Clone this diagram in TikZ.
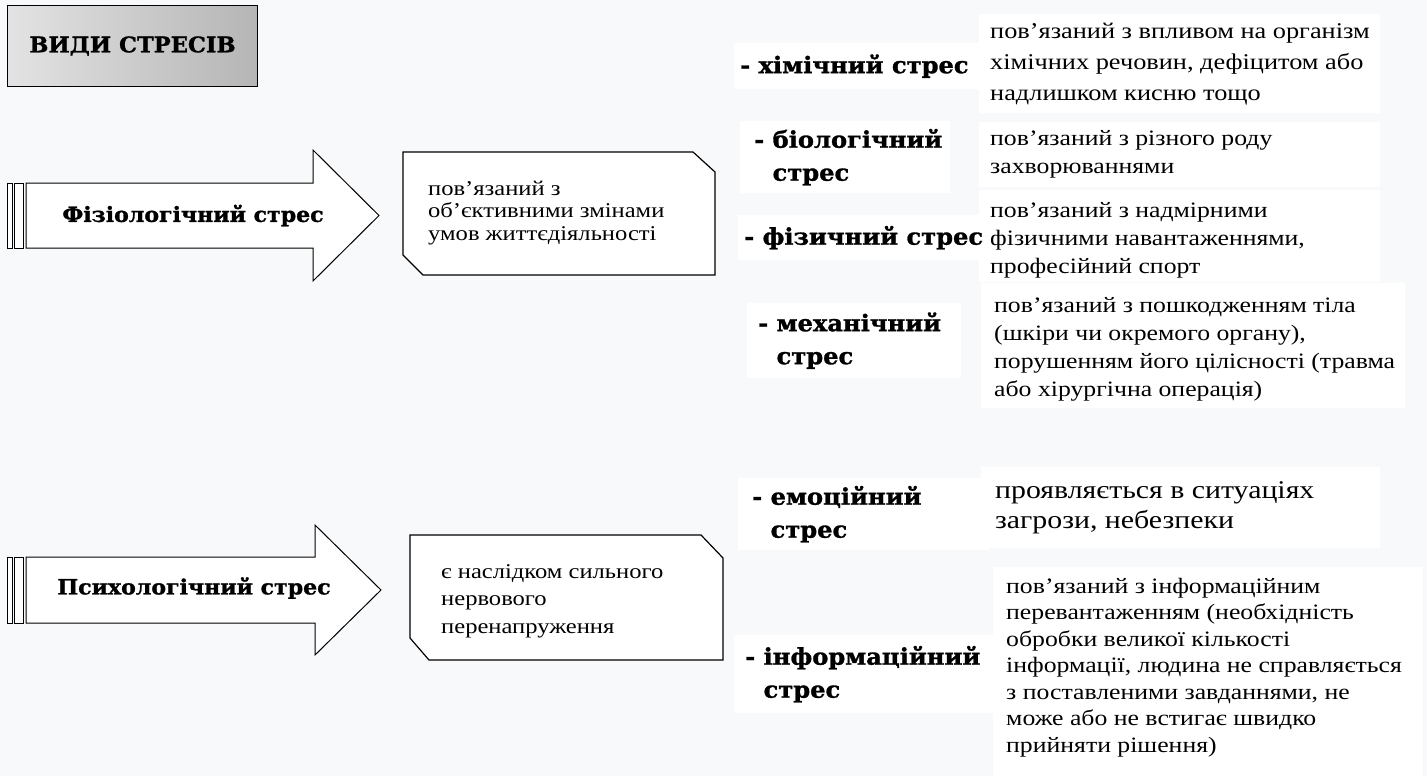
\documentclass[tikz,border=0pt]{standalone}
\usepackage{fontspec}
\setmainfont{Liberation Serif}[FakeStretch=1.17]
\newfontfamily\kindfamily{DejaVu Serif}[
  BoldFont={DejaVu Serif Bold},
  BoldFeatures={FakeBold=1.2},
  FakeStretch=1.05]
\usetikzlibrary{positioning}
\definecolor{pagegray}{RGB}{248,249,250}
\tikzset{
  % For the title plate.
  title plate/.style={
    draw=black,
    line width=1pt,
    left color=gray!22,
    middle color=gray!6,
    right color=gray!58,
    minimum width=250pt,
    minimum height=81pt,
    font=\kindfamily\bfseries\fontsize{21.5}{28}\selectfont},
%
  % For the two big arrows.
  big arrow/.style={
    draw=black,
    line width=1pt,
    fill=white},
  tail bar/.style={
    draw=black,
    line width=0.8pt,
    fill=white},
  arrow text/.style={
    inner sep=0pt,
    font=\kindfamily\bfseries\fontsize{21}{26}\selectfont},
%
  % For the boxes with cut corners.
  cut box/.style={
    draw=black,
    line width=1.2pt,
    fill=white},
  box text/.style={
    anchor=west,
    align=left,
    inner sep=0pt},
%
  % For the white plates on the right.
  plate/.style={
    fill=white,
    anchor=north west,
    inner sep=0pt},
%
  % For the kinds of stress.
  kind/.style={
    align=left,
    inner sep=0pt,
    font=\kindfamily\bfseries\fontsize{23}{33}\selectfont},
%
  % For the explanations.
  note/.style={
    align=left,
    inner sep=0pt,
    font=\fontsize{22}{28}\selectfont},
}

\begin{document}
\begin{tikzpicture}[x=1pt, y=-1pt]
  \useasboundingbox (0,0) rectangle (1427,776);
  \fill[pagegray] (0,0) rectangle (1427,776);

  \node[title plate, anchor=north west] (title) at (7,5) {ВИДИ СТРЕСІВ};

  % Physiological stress.
  \draw[tail bar] (7,183) rectangle (12,248);
  \draw[tail bar] (14,183) rectangle (23,248);
  \draw[big arrow] (26,183) -- (313,183) -- (313,150) -- (379,215.5)
    -- (313,281) -- (313,248) -- (26,248) -- cycle;
  \node[arrow text] (physio) at (193,215.5) {Фізіологічний стрес};

  \draw[cut box] (403,152) -- (693,152) -- (715,172) -- (715,275)
    -- (423,275) -- (403,255) -- cycle;
  \node[box text, font=\fontsize{21}{22.5}\selectfont] (physio note) at (428,213)
    {пов'язаний з\\об'єктивними змінами\\умов життєдіяльності};

  % Psychological stress.
  \draw[tail bar] (7,557) rectangle (12,623);
  \draw[tail bar] (14,557) rectangle (23,623);
  \draw[big arrow] (26,557) -- (315,557) -- (315,525) -- (381,590)
    -- (315,655) -- (315,623) -- (26,623) -- cycle;
  \node[arrow text] (psycho) at (194,588) {Психологічний стрес};

  \draw[cut box] (410,535) -- (701,535) -- (723,558) -- (723,660)
    -- (429,660) -- (410,638) -- cycle;
  \node[box text, font=\fontsize{21}{27.5}\selectfont] (psycho note) at (441,601)
    {є наслідком сильного\\нервового\\перенапруження};

  % Plates.
  \node[plate, minimum width=401pt, minimum height=99pt] (chem note box) at (979,14) {};
  \node[plate, minimum width=401pt, minimum height=65pt] (bio note box) at (979,122) {};
  \node[plate, minimum width=401pt, minimum height=92pt] (phys note box) at (979,190) {};
  \node[plate, minimum width=424pt, minimum height=125pt] (mech note box) at (981,283) {};
  \node[plate, minimum width=399pt, minimum height=81pt] (emo note box) at (981,467) {};
  \node[plate, minimum width=430pt, minimum height=209pt] (info note box) at (993,567) {};
  \node[plate, minimum width=245pt, minimum height=46pt] (chem kind box) at (734,43) {};
  \node[plate, minimum width=210pt, minimum height=72pt] (bio kind box) at (740,121) {};
  \node[plate, minimum width=241pt, minimum height=45pt] (phys kind box) at (738,215) {};
  \node[plate, minimum width=214pt, minimum height=75pt] (mech kind box) at (747,303) {};
  \node[plate, minimum width=252pt, minimum height=72pt] (emo kind box) at (738,478) {};
  \node[plate, minimum width=259pt, minimum height=78pt] (info kind box) at (734,635) {};

  % Kinds.
  \node[kind, right=6pt of chem kind box.west] (chem kind) {- хімічний стрес};
  \node[kind, right=14pt of bio kind box.west] (bio kind) {- біологічний\\\phantom{- }стрес};
  \node[kind, right=6pt of phys kind box.west] (phys kind) {- фізичний стрес};
  \node[kind, right=11pt of mech kind box.west] (mech kind) {- механічний\\\phantom{- }стрес};
  \node[kind, right=14pt of emo kind box.west] (emo kind) {- емоційний\\\phantom{- }стрес};
  \node[kind, right=11pt of info kind box.west] (info kind) {- інформаційний\\\phantom{- }стрес};

  % Explanations.
  \node[note, font=\fontsize{22.5}{31}\selectfont, right=11pt of chem note box.west] (chem note)
    {пов'язаний з впливом на організм\\хімічних речовин, дефіцитом або\\надлишком кисню тощо};
  \node[note, right=11pt of bio note box.west] (bio note)
    {пов'язаний з різного роду\\захворюваннями};
  \node[note, right=11pt of phys note box.west, yshift=-4pt] (phys note)
    {пов'язаний з надмірними\\фізичними навантаженнями,\\професійний спорт};
  \node[note, right=13pt of mech note box.west, yshift=-4pt] (mech note)
    {пов'язаний з пошкодженням тіла\\(шкіри чи окремого органу),\\порушенням його цілісності (травма\\або хірургічна операція)};
  \node[note, font=\fontsize{25.5}{30}\selectfont, right=14pt of emo note box.west] (emo note)
    {проявляється в ситуаціях\\загрози, небезпеки};
  \node[note, font=\fontsize{22}{26.5}\selectfont, right=13pt of info note box.west, yshift=4pt] (info note)
    {пов'язаний з інформаційним\\перевантаженням (необхідність\\обробки великої кількості\\інформації, людина не справляється\\з поставленими завданнями, не\\може або не встигає швидко\\прийняти рішення)};
\end{tikzpicture}
\end{document}
